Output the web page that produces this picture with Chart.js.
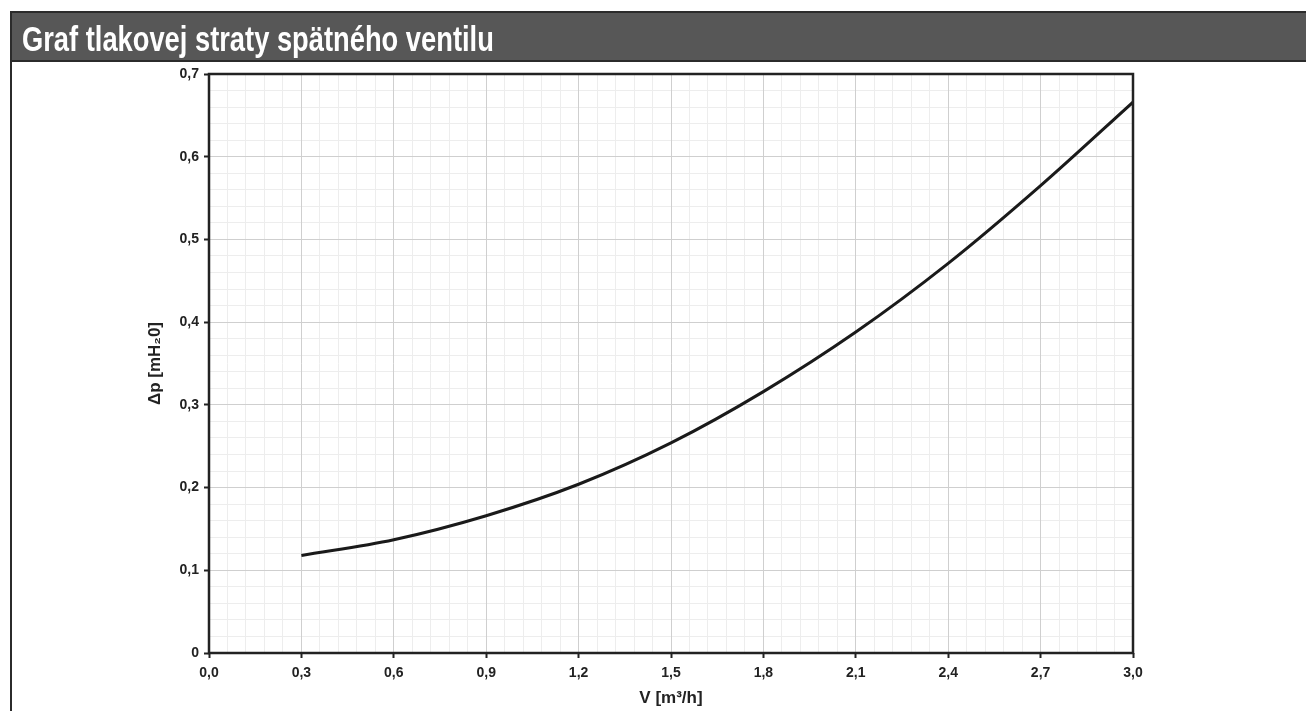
<!DOCTYPE html>
<html>
<head>
<meta charset="utf-8">
<script src="https://cdn.jsdelivr.net/npm/chart.js@4.4.1/dist/chart.umd.min.js"></script>
<style>
  html, body { margin: 0; padding: 0; background: #fff; }
  body { width: 1306px; height: 711px; position: relative; overflow: hidden; }
  #bar {
    position: absolute; left: 10px; top: 11px; width: 1300px; height: 47px;
    background: #575757; border: 2px solid #2b2b2b; border-right: none;
    color: #fff; font: bold 35px "Liberation Sans", Arial, sans-serif;
    line-height: 51px; box-sizing: content-box; white-space: nowrap;
  }
  #bar span { display: inline-block; transform: scaleX(0.78); transform-origin: 0 50%; margin-left: 10px; }
  #side { position: absolute; left: 10px; top: 62px; width: 2px; height: 649px; background: #2b2b2b; }
  #wrap { position: absolute; left: 0; top: 0; width: 1306px; height: 711px; }
</style>
</head>
<body>
<div id="wrap"><canvas id="chart"></canvas></div>
<div id="bar"><span>Graf tlakovej straty spätného ventilu</span></div>
<div id="side"></div>
<script>
// prietok V [m3/h] a tlaková strata dp [mH2O]
const flow = [0.3, 0.6, 0.9, 1.2, 1.5, 1.8, 2.1, 2.4, 2.7, 3.0];
const pressureLoss = [0.118, 0.137, 0.166, 0.204, 0.254, 0.316, 0.388, 0.471, 0.565, 0.666];

const xTitle = 'V [m³/h]';
const yTitle = 'Δp [mH₂0]';

const tickFont = { family: '"Liberation Sans", Arial, sans-serif', size: 14, weight: 'bold' };
const titleFont = { family: '"Liberation Sans", Arial, sans-serif', size: 17, weight: 'bold' };
const comma = v => v.toFixed(1).replace('.', ',');

const frame = {
  id: 'frame',
  afterDraw(chart) {
    const { ctx, chartArea: a } = chart;
    ctx.save();
    ctx.strokeStyle = '#222';
    ctx.lineWidth = 2.5;
    ctx.strokeRect(a.left, a.top, a.right - a.left, a.bottom - a.top);
    ctx.restore();
  }
};

new Chart(document.getElementById('chart'), {
  type: 'line',
  data: {
    datasets: [{
      data: flow.map((x, i) => ({ x: x, y: pressureLoss[i] })),
      borderColor: '#1a1a1a',
      borderWidth: 3,
      pointRadius: 0,
      cubicInterpolationMode: 'monotone',
      fill: false
    }]
  },
  options: {
    responsive: true,
    maintainAspectRatio: false,
    animation: false,
    layout: { padding: { left: 0, top: 74, right: 173, bottom: 0 } },
    plugins: { legend: { display: false }, tooltip: { enabled: false } },
    scales: {
      xMinor: {
        type: 'linear', position: 'bottom', min: 0, max: 3,
        ticks: { display: false, stepSize: 0.06 },
        grid: { color: '#ededed', lineWidth: 1, drawTicks: false },
        border: { display: false },
        afterFit: s => { s.height = 0; }
      },
      yMinor: {
        type: 'linear', position: 'left', min: 0, max: 0.7,
        ticks: { display: false, stepSize: 0.02 },
        grid: { color: '#ededed', lineWidth: 1, drawTicks: false },
        border: { display: false },
        afterFit: s => { s.width = 0; }
      },
      x: {
        type: 'linear', position: 'bottom', min: 0, max: 3,
        ticks: { stepSize: 0.3, color: '#222', font: tickFont, padding: 7, callback: v => comma(v) },
        grid: { color: '#cfcfcf', lineWidth: 1, tickLength: 5, tickColor: '#222', tickWidth: 2 },
        border: { display: false },
        title: { display: true, text: xTitle, color: '#222', font: titleFont, padding: { top: 0, bottom: 2 } },
        afterFit: s => { s.height = 58; }
      },
      y: {
        type: 'linear', position: 'left', min: 0, max: 0.7,
        ticks: { stepSize: 0.1, color: '#222', font: tickFont, padding: 5, callback: v => v === 0 ? '0' : comma(v) },
        grid: { color: '#cfcfcf', lineWidth: 1, tickLength: 5, tickColor: '#222', tickWidth: 2 },
        border: { display: false },
        title: { display: true, text: yTitle, color: '#222', font: titleFont, padding: { top: 145, bottom: 0 } },
        afterFit: s => { s.width = 209; }
      }
    }
  },
  plugins: [frame]
});
</script>
</body>
</html>
